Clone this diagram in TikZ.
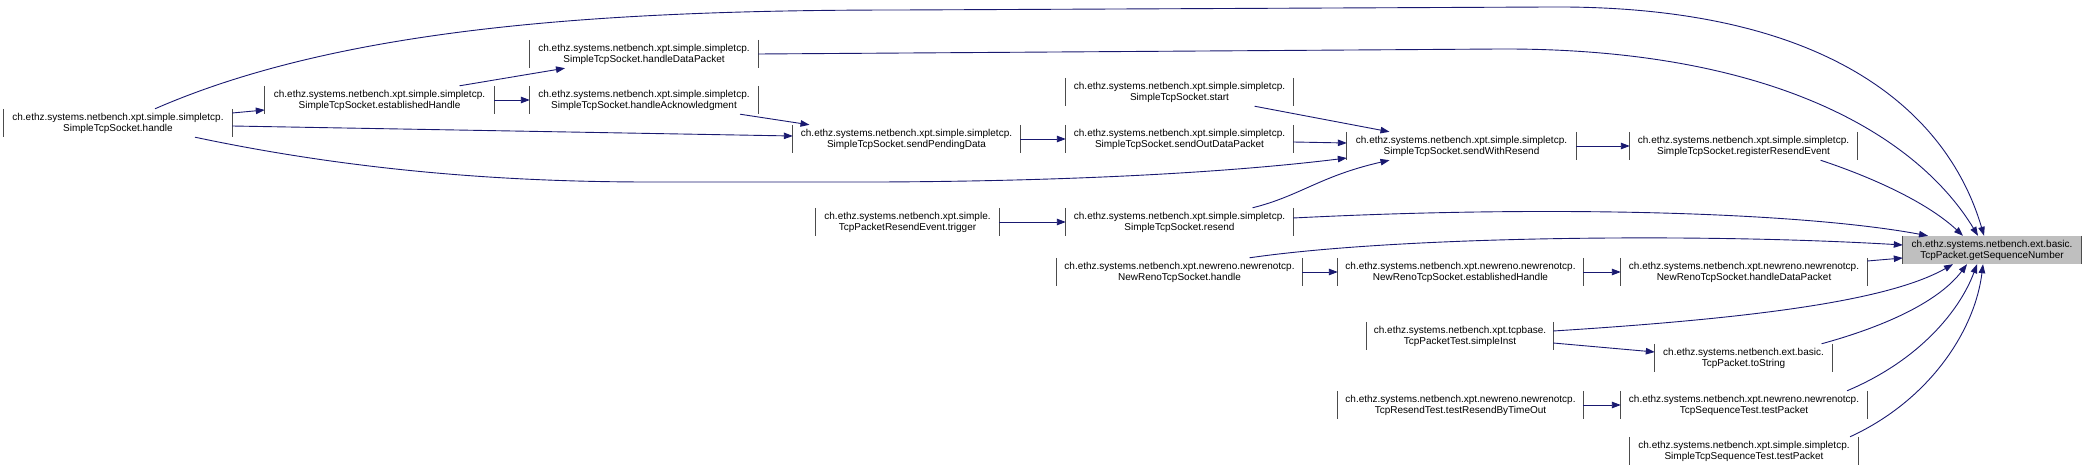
\documentclass[tikz,border=0pt]{standalone}
\usepackage{fontspec}
\setmainfont{Liberation Sans}
\usepackage{tikz}
\usetikzlibrary{arrows.meta,calc}
\definecolor{edgeblue}{HTML}{191970}
\definecolor{nodegray}{HTML}{BFBFBF}

\begin{document}
\begin{tikzpicture}[x=1pt,y=-1pt,>={Triangle[length=9pt,width=6.5pt]},
  fnbar/.style={-,draw=black!70,line width=0.9pt},
  fn/.style={minimum height=28pt,inner sep=0pt,align=center,font=\fontsize{10}{11}\selectfont,
    append after command={(\tikzlastnode.north west) edge[fnbar] (\tikzlastnode.south west)
      (\tikzlastnode.north east) edge[fnbar] (\tikzlastnode.south east)}},
  call/.style={->,edgeblue,line width=0.9pt}]
  \useasboundingbox (0,0) rectangle (2084,470);
  \node[fn,minimum width=228pt] (handle) at (118,123) {ch.ethz.systems.netbench.xpt.simple.simpletcp.\\SimpleTcpSocket.handle};
  \node[fn,minimum width=229pt] (estH) at (379.5,100) {ch.ethz.systems.netbench.xpt.simple.simpletcp.\\SimpleTcpSocket.establishedHandle};
  \node[fn,minimum width=228pt] (hDP) at (644,54) {ch.ethz.systems.netbench.xpt.simple.simpletcp.\\SimpleTcpSocket.handleDataPacket};
  \node[fn,minimum width=228pt] (hAck) at (644,100) {ch.ethz.systems.netbench.xpt.simple.simpletcp.\\SimpleTcpSocket.handleAcknowledgment};
  \node[fn,minimum width=227pt] (sPD) at (906.5,139) {ch.ethz.systems.netbench.xpt.simple.simpletcp.\\SimpleTcpSocket.sendPendingData};
  \node[fn,minimum width=227pt] (start) at (1179.5,92) {ch.ethz.systems.netbench.xpt.simple.simpletcp.\\SimpleTcpSocket.start};
  \node[fn,minimum width=227pt] (sODP) at (1179.5,139) {ch.ethz.systems.netbench.xpt.simple.simpletcp.\\SimpleTcpSocket.sendOutDataPacket};
  \node[fn,minimum width=229pt] (sWR) at (1461.5,146) {ch.ethz.systems.netbench.xpt.simple.simpletcp.\\SimpleTcpSocket.sendWithResend};
  \node[fn,minimum width=227pt] (rRE) at (1743.5,146) {ch.ethz.systems.netbench.xpt.simple.simpletcp.\\SimpleTcpSocket.registerResendEvent};
  \node[fn,minimum width=183pt] (trig) at (907.5,222) {ch.ethz.systems.netbench.xpt.simple.\\TcpPacketResendEvent.trigger};
  \node[fn,minimum width=227pt] (resend) at (1179.5,222) {ch.ethz.systems.netbench.xpt.simple.simpletcp.\\SimpleTcpSocket.resend};
  \node[fn,minimum width=178pt,fill=nodegray] (target) at (1992,250) {ch.ethz.systems.netbench.ext.basic.\\TcpPacket.getSequenceNumber};
  \node[fn,minimum width=245pt] (nrH) at (1179.5,272) {ch.ethz.systems.netbench.xpt.newreno.newrenotcp.\\NewRenoTcpSocket.handle};
  \node[fn,minimum width=245pt] (nrEH) at (1460.5,272) {ch.ethz.systems.netbench.xpt.newreno.newrenotcp.\\NewRenoTcpSocket.establishedHandle};
  \node[fn,minimum width=246pt] (nrHDP) at (1744,272) {ch.ethz.systems.netbench.xpt.newreno.newrenotcp.\\NewRenoTcpSocket.handleDataPacket};
  \node[fn,minimum width=186pt] (sInst) at (1460,336) {ch.ethz.systems.netbench.xpt.tcpbase.\\TcpPacketTest.simpleInst};
  \node[fn,minimum width=177pt] (toStr) at (1743.5,358) {ch.ethz.systems.netbench.ext.basic.\\TcpPacket.toString};
  \node[fn,minimum width=245pt] (tRBT) at (1460.5,405) {ch.ethz.systems.netbench.xpt.newreno.newrenotcp.\\TcpResendTest.testResendByTimeOut};
  \node[fn,minimum width=246pt] (tcpSeqT) at (1744,405) {ch.ethz.systems.netbench.xpt.newreno.newrenotcp.\\TcpSequenceTest.testPacket};
  \node[fn,minimum width=228pt] (sSeqT) at (1744,451) {ch.ethz.systems.netbench.xpt.simple.simpletcp.\\SimpleTcpSequenceTest.testPacket};

  \draw[call] ([xshift=37pt]handle.north) .. controls (340,28) and (600,10) .. (900,10) -- (1550,7)
    .. controls (1840,5) and (1950,120) .. ([xshift=-8pt]target.north);
  \draw[call] ([yshift=10pt]handle.east) -- ([yshift=-10pt]estH.west);
  \draw[call] ([yshift=-3pt]handle.east) -- ([yshift=3pt]sPD.west);
  \draw[call] ([xshift=77pt]handle.south) .. controls (350,170) and (500,182) .. (650,182) -- (880,182)
    .. controls (1100,181) and (1250,170) .. ([yshift=-12pt]sWR.west);
  \draw[call] ([xshift=80pt]estH.north) -- ([xshift=-79pt]hDP.south);
  \draw[call] (estH.east) -- (hAck.west);
  \draw[call] (hDP.east) -- (1500,49) .. controls (1780,48) and (1920,140) .. ([xshift=-14pt]target.north);
  \draw[call] ([xshift=96pt]hAck.south) -- ([xshift=-97pt]sPD.north);
  \draw[call] (sPD.east) -- (sODP.west);
  \draw[call] ([xshift=75pt]start.south) -- ([xshift=-72pt]sWR.north);
  \draw[call] ([yshift=-3pt]sODP.east) -- ([yshift=3pt]sWR.west);
  \draw[call] ([xshift=73pt]resend.north) .. controls (1300,196) and (1320,176) .. ([xshift=-72pt]sWR.south);
  \draw[call] (trig.east) -- (resend.west);
  \draw[call] (sWR.east) -- (rRE.west);
  \draw[call] ([xshift=77pt]rRE.south) .. controls (1880,180) and (1930,205) .. ([xshift=-29pt]target.north);
  \draw[call] ([yshift=4pt]resend.east) .. controls (1550,205) and (1800,212) .. ([xshift=-64pt]target.north);
  \draw[call] ([xshift=70pt]nrH.north) .. controls (1400,236) and (1700,233) .. ([yshift=5pt]target.west);
  \draw[call] (nrH.east) -- (nrEH.west);
  \draw[call] (nrEH.east) -- (nrHDP.west);
  \draw[call] ([yshift=11pt]nrHDP.east) -- ([yshift=-8pt]target.west);
  \draw[call] ([yshift=5pt]sInst.east) .. controls (1760,318) and (1890,300) .. ([xshift=-39pt]target.south);
  \draw[call] ([yshift=-7pt]sInst.east) -- ([yshift=6pt]toStr.west);
  \draw[call] ([xshift=78pt]toStr.north) .. controls (1890,325) and (1940,300) .. ([xshift=-25pt]target.south);
  \draw[call] (tRBT.east) -- (tcpSeqT.west);
  \draw[call] ([xshift=103pt]tcpSeqT.north) .. controls (1920,360) and (1960,310) .. ([xshift=-15pt]target.south);
  \draw[call] ([xshift=106pt]sSeqT.north) .. controls (1930,400) and (1975,330) .. ([xshift=-9pt]target.south);
\end{tikzpicture}
\end{document}
